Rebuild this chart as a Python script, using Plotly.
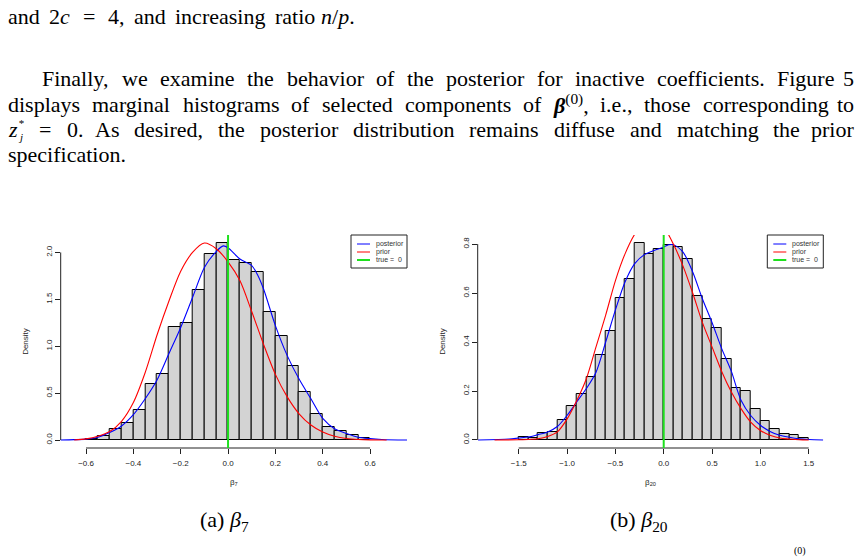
import numpy as np
import plotly.graph_objects as go

W, H = 862, 559

# ---------------- data ----------------
b7_breaks = [-0.6, -0.55, -0.5, -0.45, -0.4, -0.35, -0.3, -0.25, -0.2, -0.15, -0.1, -0.05,
             0.0, 0.05, 0.1, 0.15, 0.2, 0.25, 0.3, 0.35, 0.4, 0.45, 0.5, 0.55, 0.6]
b7_density = [0.014, 0.043, 0.114, 0.18, 0.32, 0.60, 0.70, 1.21, 1.25, 1.60, 1.98, 2.10,
              1.915, 1.89, 1.79, 1.365, 1.105, 0.785, 0.51, 0.28, 0.135, 0.10, 0.057, 0.02]

b7_prior_x = [-0.65, -0.6, -0.55, -0.5, -0.45, -0.4, -0.35, -0.3, -0.25, -0.2, -0.15, -0.1,
              -0.05, 0.0, 0.05, 0.1, 0.15, 0.2, 0.25, 0.3, 0.35, 0.4, 0.45, 0.5, 0.55, 0.6, 0.67]
b7_prior_y = [0.0, 0.012, 0.04, 0.09, 0.20, 0.40, 0.72, 1.12, 1.48, 1.80, 2.00, 2.10,
              2.04, 1.90, 1.70, 1.37, 1.02, 0.70, 0.46, 0.28, 0.16, 0.085, 0.04, 0.016, 0.006, 0.002, 0.0]

b7_post_x = [-0.71, -0.65, -0.6, -0.55, -0.5, -0.45, -0.4, -0.35, -0.3, -0.25, -0.2, -0.15,
             -0.1, -0.05, -0.02, 0.0, 0.05, 0.1, 0.125, 0.15, 0.2, 0.25, 0.3, 0.35, 0.4, 0.45,
             0.5, 0.55, 0.6, 0.65, 0.76]
b7_post_y = [0.0, 0.004, 0.01, 0.03, 0.08, 0.15, 0.27, 0.44, 0.64, 0.92, 1.20, 1.52,
             1.84, 2.01, 2.07, 2.05, 1.93, 1.86, 1.76, 1.61, 1.22, 0.90, 0.65, 0.44, 0.23, 0.12,
             0.07, 0.03, 0.015, 0.006, 0.0]

b20_breaks = [-1.5, -1.4, -1.3, -1.2, -1.1, -1.0, -0.9, -0.8, -0.7, -0.6, -0.5, -0.4, -0.3,
              -0.2, -0.1, 0.0, 0.1, 0.2, 0.3, 0.4, 0.5, 0.6, 0.7, 0.8, 0.9, 1.0, 1.1, 1.2,
              1.3, 1.4, 1.5]
b20_density = [0.013, 0.008, 0.030, 0.033, 0.083, 0.139, 0.186, 0.256, 0.348, 0.446, 0.578,
               0.659, 0.804, 0.759, 0.781, 0.796, 0.789, 0.739, 0.588, 0.495, 0.456, 0.329,
               0.214, 0.201, 0.125, 0.076, 0.046, 0.023, 0.022, 0.010]

b20_prior_x = [-1.75, -1.5, -1.4, -1.3, -1.2, -1.1, -1.0, -0.9, -0.8, -0.7, -0.6, -0.5, -0.4,
               -0.3, -0.2, -0.1, 0.0, 0.1, 0.2, 0.3, 0.4, 0.5, 0.6, 0.7, 0.8, 0.9, 1.0, 1.1,
               1.2, 1.3, 1.4, 1.5]
b20_prior_y = [0.0, 0.001, 0.002, 0.005, 0.014, 0.033, 0.085, 0.16, 0.25, 0.38, 0.51, 0.65,
               0.76, 0.84, 0.89, 0.90, 0.87, 0.80, 0.71, 0.60, 0.48, 0.38, 0.28, 0.196, 0.128,
               0.073, 0.039, 0.019, 0.008, 0.004, 0.001, 0.0]

b20_post_x = [-1.92, -1.6, -1.5, -1.4, -1.3, -1.2, -1.1, -1.0, -0.9, -0.8, -0.7, -0.6, -0.5,
              -0.4, -0.3, -0.2, -0.1, 0.0, 0.05, 0.1, 0.2, 0.3, 0.4, 0.5, 0.6, 0.7, 0.8, 0.9,
              1.0, 1.1, 1.2, 1.3, 1.4, 1.5, 1.65]
b20_post_y = [0.0, 0.004, 0.008, 0.012, 0.022, 0.033, 0.055, 0.10, 0.155, 0.21, 0.277, 0.40,
              0.53, 0.645, 0.72, 0.757, 0.774, 0.788, 0.797, 0.797, 0.767, 0.686, 0.577, 0.48,
              0.373, 0.28, 0.162, 0.10, 0.06, 0.035, 0.019, 0.011, 0.005, 0.002, 0.0]

true_value = 0.0

b7_xticks = [-0.6, -0.4, -0.2, 0.0, 0.2, 0.4, 0.6]
b7_xticklabels = ["\u22120.6", "\u22120.4", "\u22120.2", "0.0", "0.2", "0.4", "0.6"]
b7_yticks = [0.0, 0.5, 1.0, 1.5, 2.0]
b7_yticklabels = ["0.0", "0.5", "1.0", "1.5", "2.0"]
b20_xticks = [-1.5, -1.0, -0.5, 0.0, 0.5, 1.0, 1.5]
b20_xticklabels = ["\u22121.5", "\u22121.0", "\u22120.5", "0.0", "0.5", "1.0", "1.5"]
b20_yticks = [0.0, 0.2, 0.4, 0.6, 0.8]
b20_yticklabels = ["0.0", "0.2", "0.4", "0.6", "0.8"]

legend_labels = ["posterior", "prior", "true =  0"]

# ---------------- styling / layout helpers ----------------
SANS = "Liberation Sans, Arial, sans-serif"
SERIF = "Liberation Serif, Times New Roman, serif"
BLUE, RED, GREEN, GRAY = "#0000FF", "#FF0000", "#1EE01E", "#D3D3D3"
TEXT_SIZE = 22
AX_TXT = "#222"


def px(x):
    return x / W


def py(y):
    return 1 - y / H


panels = [
    dict(l=60.7, r=407.0, t=235.0, b=448.0, xr=[-0.707, 0.756], yr=[-0.085, 2.186],
         breaks=b7_breaks, dens=b7_density, px_=b7_prior_x, py_=b7_prior_y,
         qx=b7_post_x, qy=b7_post_y, xt=b7_xticks, xtl=b7_xticklabels,
         yt=b7_yticks, ytl=b7_yticklabels, xtitle="β<sub>7</sub>"),
    dict(l=477.7, r=823.3, t=235.0, b=448.0, xr=[-1.924, 1.651], yr=[-0.0327, 0.837],
         breaks=b20_breaks, dens=b20_density, px_=b20_prior_x, py_=b20_prior_y,
         qx=b20_post_x, qy=b20_post_y, xt=b20_xticks, xtl=b20_xticklabels,
         yt=b20_yticks, ytl=b20_yticklabels, xtitle="β<sub>20</sub>"),
]

fig = go.Figure()
shapes = []
annotations = []
layout_axes = {}

for i, p in enumerate(panels, start=1):
    xa = "x" if i == 1 else f"x{i}"
    ya = "y" if i == 1 else f"y{i}"
    edges = np.array(p["breaks"])
    centers = (edges[:-1] + edges[1:]) / 2
    widths = np.diff(edges)
    fig.add_trace(go.Bar(x=centers, y=p["dens"], width=widths, xaxis=xa, yaxis=ya,
                         marker=dict(color=GRAY, line=dict(color="black", width=1)),
                         showlegend=False, hoverinfo="skip"))
    fig.add_trace(go.Scatter(x=p["qx"], y=p["qy"], mode="lines", xaxis=xa, yaxis=ya,
                             line=dict(color=BLUE, width=1.1, shape="spline", smoothing=0.8),
                             name="posterior", showlegend=False))
    fig.add_trace(go.Scatter(x=p["px_"], y=p["py_"], mode="lines", xaxis=xa, yaxis=ya,
                             line=dict(color=RED, width=1.1, shape="spline", smoothing=0.8),
                             name="prior", showlegend=False))

    axkey_x = "xaxis" if i == 1 else f"xaxis{i}"
    axkey_y = "yaxis" if i == 1 else f"yaxis{i}"
    layout_axes[axkey_x] = dict(
        domain=[px(p["l"]), px(p["r"])], range=p["xr"], anchor=ya,
        tickmode="array", tickvals=p["xt"], ticktext=p["xtl"],
        ticks="outside", ticklen=5, tickwidth=1, tickcolor="#222",
        showgrid=False, zeroline=False, showline=False,
        tickfont=dict(family=SANS, size=8, color=AX_TXT), ticklabelstandoff=2,
        title=dict(text=p["xtitle"], font=dict(family=SANS, size=8, color=AX_TXT), standoff=12),
    )
    layout_axes[axkey_y] = dict(
        domain=[py(p["b"]), py(p["t"])], range=p["yr"], anchor=xa,
        tickmode="array", tickvals=p["yt"], ticktext=p["ytl"], tickangle=-90,
        ticks="outside", ticklen=5, tickwidth=1, tickcolor="#222",
        showgrid=False, zeroline=False, showline=False,
        tickfont=dict(family=SANS, size=8, color=AX_TXT),
        title=dict(text="Density", font=dict(family=SANS, size=8, color=AX_TXT), standoff=14),
    )

    # R-style axis lines spanning first..last tick
    shapes.append(dict(type="line", xref=xa, yref=f"{ya} domain", x0=p["xt"][0], x1=p["xt"][-1],
                       y0=0, y1=0, line=dict(color="#222", width=1)))
    shapes.append(dict(type="line", xref=f"{xa} domain", yref=ya, x0=0, x1=0,
                       y0=p["yt"][0], y1=p["yt"][-1], line=dict(color="#222", width=1)))
    # true value line (abline)
    shapes.append(dict(type="line", xref=xa, yref=f"{ya} domain", x0=true_value, x1=true_value,
                       y0=0, y1=1, line=dict(color=GREEN, width=2), layer="above"))

    # legend box (top-right, R style)
    bx1 = p["r"]
    bx0 = bx1 - 56
    by0, by1 = p["t"], p["t"] + 33
    shapes.append(dict(type="rect", xref="paper", yref="paper", x0=px(bx0), x1=px(bx1),
                       y0=py(by1), y1=py(by0), line=dict(color="#222", width=1),
                       fillcolor="white", layer="above"))
    rows = [by0 + 9, by0 + 17, by0 + 25]
    cols = [BLUE, RED, GREEN]
    lws = [1, 1, 2]
    for lab, ry, c, lw in zip(legend_labels, rows, cols, lws):
        shapes.append(dict(type="line", xref="paper", yref="paper", x0=px(bx0 + 6),
                           x1=px(bx0 + 19), y0=py(ry), y1=py(ry),
                           line=dict(color=c, width=lw), layer="above"))
        annotations.append(dict(text=lab, xref="paper", yref="paper", x=px(bx0 + 23), y=py(ry),
                                xanchor="left", yanchor="middle", showarrow=False,
                                font=dict(family=SANS, size=7, color="#333")))

# ---------------- surrounding document text ----------------
# Times-Roman advance widths (per 1000 em), used to justify lines like LaTeX does
TIMES_W = {' ': 250, ',': 250, '.': 250, '=': 564, '*': 350, '(': 233, ')': 233, '/': 278,
           'a': 444, 'b': 500, 'c': 444, 'd': 500, 'e': 444, 'f': 333, 'g': 500, 'h': 500,
           'i': 278, 'j': 278, 'k': 500, 'l': 278, 'm': 778, 'n': 500, 'o': 500, 'p': 500,
           'q': 500, 'r': 333, 's': 389, 't': 278, 'u': 500, 'v': 500, 'w': 722, 'x': 500,
           'y': 500, 'z': 389, 'A': 722, 'F': 556, 'β': 500, '0': 350, '2': 500, '4': 500,
           '5': 500}


def text_width(s, size):
    return sum(TIMES_W.get(ch, 500) for ch in s) * size / 1000


def txt(s, x, y, xanchor="left", size=TEXT_SIZE):
    annotations.append(dict(text=s, xref="paper", yref="paper", x=px(x), y=py(y),
                            xanchor=xanchor, yanchor="middle", showarrow=False,
                            font=dict(family=SERIF, size=size, color="black")))


def justified(words, x0, x1, y, size=TEXT_SIZE, weights=None):
    widths = [text_width(plain, size) for _, plain in words]
    if weights is None:
        weights = [1.0] * (len(words) - 1)
    unit = (x1 - x0 - sum(widths)) / sum(weights)
    x = x0
    for k, ((html, _), w) in enumerate(zip(words, widths)):
        if html is not None:
            if k == len(words) - 1:
                txt(html, x1, y, "right", size)
            else:
                txt(html, x, y, "left", size)
        if k < len(weights):
            x += w + unit * weights[k]


line1 = [("and", "and"), ("2<i>c</i>", "2c"), ("=", "="), ("4,", "4,"), ("and", "and"),
         ("increasing", "increasing"), ("ratio", "ratio"), ("<i>n</i>/<i>p</i>.", "n/p.")]
line2 = [(w, w) for w in "Finally, we examine the behavior of the posterior for inactive "
         "coefficients. Figure 5".split()]
line3 = [(w, w) for w in "displays marginal histograms of selected components of".split()] + \
        [("<b><i>β</i></b><sup>(0)</sup>,", "β(0),")] + \
        [(w, w) for w in "i.e., those corresponding to".split()]
line4 = [(None, "z*"), ("=", "="), ("0.", "0.")] + \
        [(w, w) for w in "As desired, the posterior distribution remains diffuse and "
         "matching the prior".split()]

justified(line1, 6, 357, 17, weights=[1, 1.3, 1.3, 1, 1, 1, 1])
justified(line2, 40, 856, 78)
justified(line3, 6, 856, 104)
# z*_j with stacked super/subscript (one text block)
txt("<i>z</i>", 6, 129)
txt("*<br><i>j</i>", 15.5, 130, "left", 11)
justified(line4, 6, 856, 129)
txt("specification.", 6, 154)
txt("(a) <i>β</i><sub>7</sub>", 224, 521, "center")
txt("(b) <i>β</i><sub>20</sub>", 639, 521, "center")
annotations.append(dict(text="(0)", xref="paper", yref="paper", x=px(800), y=py(558.5),
                        xanchor="center", yanchor="bottom", showarrow=False,
                        font=dict(family=SERIF, size=10, color="black")))

fig.update_layout(
    width=W, height=H, margin=dict(l=0, r=0, t=0, b=0),
    paper_bgcolor="white", plot_bgcolor="white",
    bargap=0, barmode="overlay", showlegend=False,
    shapes=shapes, annotations=annotations,
    **layout_axes,
)

fig.write_html("out.html")
